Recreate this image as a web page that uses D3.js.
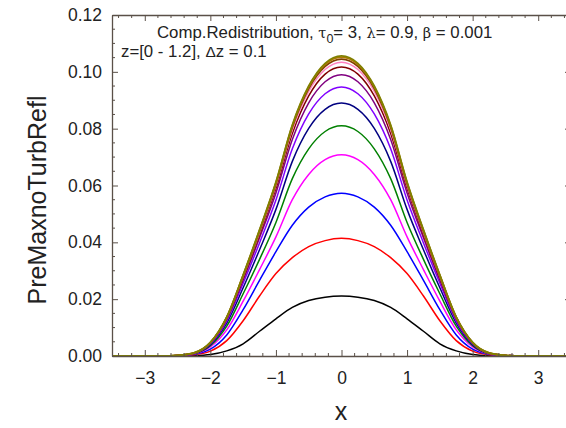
<!DOCTYPE html>
<html>
<head>
<meta charset="utf-8">
<script src="https://cdn.jsdelivr.net/npm/d3@7"></script>
<style>
  html, body { margin: 0; padding: 0; background: #fff; }
  svg { display: block; font-family: "Liberation Sans", Arial, sans-serif; }
</style>
</head>
<body>
<svg id="chart" width="566" height="428"></svg>
<script>
// ---- data ----
const xValues = [-3.5,-3.25,-3,-2.75,-2.5,-2.25,-2,-1.75,-1.5,-1.25,-1,-0.75,-0.5,-0.25,0,0.25,0.5,0.75,1,1.25,1.5,1.75,2,2.25,2.5,2.75,3,3.25,3.5];
const zLabels = ["0","0.1","0.2","0.3","0.4","0.5","0.6","0.7","0.8","0.9","1.0","1.1","1.2"];
const z00 = [0,0,0,0,0,0.0001,0.0005,0.0018,0.0043,0.0087,0.0131,0.0171,0.0195,0.0207,0.0211,0.0207,0.0195,0.0171,0.0131,0.0087,0.0043,0.0018,0.0005,0.0001,0,0,0,0,0];
const z01 = [0,0,0,0,0.0001,0.0004,0.0017,0.0054,0.0124,0.0211,0.0290,0.0346,0.0385,0.0406,0.0414,0.0406,0.0385,0.0346,0.0290,0.0211,0.0124,0.0054,0.0017,0.0004,0.0001,0,0,0,0];
const z02 = [0,0,0,0,0.0001,0.0006,0.0024,0.0074,0.0163,0.0266,0.0367,0.0460,0.0524,0.0560,0.0573,0.0560,0.0524,0.0460,0.0367,0.0266,0.0163,0.0074,0.0024,0.0006,0.0001,0,0,0,0];
const z03 = [0,0,0,0,0.0001,0.0007,0.0032,0.0092,0.0193,0.0304,0.0419,0.0550,0.0639,0.0691,0.0708,0.0691,0.0639,0.0550,0.0419,0.0304,0.0193,0.0092,0.0032,0.0007,0.0001,0,0,0,0];
const z04 = [0,0,0,0,0.0002,0.0008,0.0036,0.0105,0.0219,0.0340,0.0470,0.0624,0.0729,0.0790,0.0810,0.0790,0.0729,0.0624,0.0470,0.0340,0.0219,0.0105,0.0036,0.0008,0.0002,0,0,0,0];
const z05 = [0,0,0,0,0.0002,0.0009,0.0040,0.0116,0.0240,0.0374,0.0516,0.0685,0.0801,0.0868,0.0890,0.0868,0.0801,0.0685,0.0516,0.0374,0.0240,0.0116,0.0040,0.0009,0.0002,0,0,0,0];
const z06 = [0,0,0,0,0.0002,0.0009,0.0043,0.0123,0.0256,0.0398,0.0549,0.0729,0.0852,0.0923,0.0947,0.0923,0.0852,0.0729,0.0549,0.0398,0.0256,0.0123,0.0043,0.0009,0.0002,0,0,0,0];
const z07 = [0,0,0,0,0.0002,0.0010,0.0045,0.0129,0.0267,0.0416,0.0574,0.0762,0.0891,0.0965,0.0990,0.0965,0.0891,0.0762,0.0574,0.0416,0.0267,0.0129,0.0045,0.0010,0.0002,0,0,0,0];
const z08 = [0,0,0,0,0.0002,0.0010,0.0046,0.0132,0.0275,0.0427,0.0590,0.0783,0.0915,0.0992,0.1017,0.0992,0.0915,0.0783,0.0590,0.0427,0.0275,0.0132,0.0046,0.0010,0.0002,0,0,0,0];
const z09 = [0,0,0,0,0.0002,0.0010,0.0047,0.0134,0.0279,0.0434,0.0600,0.0796,0.0931,0.1008,0.1034,0.1008,0.0931,0.0796,0.0600,0.0434,0.0279,0.0134,0.0047,0.0010,0.0002,0,0,0,0];
const z10 = [0,0,0,0,0.0002,0.0010,0.0047,0.0136,0.0282,0.0439,0.0606,0.0805,0.0941,0.1019,0.1045,0.1019,0.0941,0.0805,0.0606,0.0439,0.0282,0.0136,0.0047,0.0010,0.0002,0,0,0,0];
const z11 = [0,0,0,0,0.0002,0.0011,0.0047,0.0137,0.0284,0.0442,0.0610,0.0810,0.0947,0.1026,0.1052,0.1026,0.0947,0.0810,0.0610,0.0442,0.0284,0.0137,0.0047,0.0011,0.0002,0,0,0,0];
const z12 = [0,0,0,0,0.0002,0.0011,0.0048,0.0137,0.0285,0.0444,0.0612,0.0813,0.0950,0.1030,0.1056,0.1030,0.0950,0.0813,0.0612,0.0444,0.0285,0.0137,0.0048,0.0011,0.0002,0,0,0,0];
const seriesValues = [z00,z01,z02,z03,z04,z05,z06,z07,z08,z09,z10,z11,z12];
const seriesColors = ["#000000","#FF0000","#0000FF","#FF00FF","#008000","#000080","#8000FF","#800080","#800000","#FF80C0","#804000","#B07800","#808000"];
const xTickValues = [-3,-2,-1,0,1,2,3];
const yTickValues = [0.00,0.02,0.04,0.06,0.08,0.10,0.12];

// ---- layout ----
const svg = d3.select("#chart");
const plotLeft = 112, plotRight = 571, plotTop = 15, plotBottom = 356;
const x = d3.scaleLinear().domain([-3.5, 3.5]).range([plotLeft, plotRight]);
const y = d3.scaleLinear().domain([0, 0.12]).range([plotBottom, plotTop]);
const axisColor = "#5a5048";

// curves
const line = d3.line().x((d, i) => x(xValues[i])).y(d => y(d)).curve(d3.curveMonotoneX);
svg.append("g").selectAll("path").data(seriesValues).join("path")
  .attr("d", d => line(d))
  .attr("fill", "none")
  .attr("stroke", (d, i) => seriesColors[i])
  .attr("stroke-width", (d, i) => i >= 10 ? 1.8 : 1.5);

// axes (ticks inward)
function styleAxis(g) {
  g.selectAll("path, line").attr("stroke", axisColor);
  g.select(".domain").attr("stroke-width", 1.3);
  g.selectAll("text").attr("fill", "#222").attr("font-size", "17.5px")
    .attr("font-family", "Liberation Sans, Arial, sans-serif");
}
const xMinor = d3.range(-3.4, 3.5001, 0.2).map(v => +v.toFixed(2)).filter(v => Math.abs(Math.round(v) - v) > 1e-6);
const yMinor = d3.range(0.005, 0.12, 0.005).map(v => +v.toFixed(3)).filter(v => Math.abs(Math.round(v * 50) - v * 50) > 1e-6);

// bottom
const gB = svg.append("g").attr("transform", `translate(0,${plotBottom})`);
gB.call(d3.axisBottom(x).tickValues(xTickValues).tickSize(-6).tickPadding(16).tickFormat(d3.format("d")).tickSizeOuter(0));
styleAxis(gB);
gB.append("g").selectAll("line").data(xMinor).join("line")
  .attr("x1", d => x(d)).attr("x2", d => x(d)).attr("y1", 0).attr("y2", -3).attr("stroke", axisColor);

// top
const gT = svg.append("g").attr("transform", `translate(0,${plotTop})`);
gT.call(d3.axisTop(x).tickValues(xTickValues).tickSize(-6).tickFormat("").tickSizeOuter(0));
styleAxis(gT);
gT.append("g").selectAll("line").data(xMinor).join("line")
  .attr("x1", d => x(d)).attr("x2", d => x(d)).attr("y1", 0).attr("y2", 3).attr("stroke", axisColor);

// left
const gL = svg.append("g").attr("transform", `translate(${plotLeft},0)`);
gL.call(d3.axisLeft(y).tickValues(yTickValues).tickSize(-6).tickPadding(10).tickFormat(d3.format(".2f")).tickSizeOuter(0));
styleAxis(gL);
gL.append("g").selectAll("line").data(yMinor).join("line")
  .attr("y1", d => y(d)).attr("y2", d => y(d)).attr("x1", 0).attr("x2", 3).attr("stroke", axisColor);

// right
const gR = svg.append("g").attr("transform", `translate(${plotRight},0)`);
gR.call(d3.axisRight(y).tickValues(yTickValues).tickSize(-6).tickFormat("").tickSizeOuter(0));
styleAxis(gR);

// axis titles
svg.append("text").attr("x", 341).attr("y", 420).attr("text-anchor", "middle")
  .attr("font-size", "25px").attr("fill", "#222").text("x");
svg.append("text").attr("transform", "translate(46,200) rotate(-90)").attr("text-anchor", "middle")
  .attr("font-size", "25px").attr("fill", "#222").text("PreMaxnoTurbRefl");

// annotations
const t1 = svg.append("text").attr("x", 157).attr("y", 38).attr("font-size", "16.8px").attr("fill", "#222");
t1.append("tspan").text("Comp.Redistribution, ");
t1.append("tspan").attr("font-family", "DejaVu Serif, serif").attr("font-size", "14.5px").text("τ");
t1.append("tspan").attr("font-size", "12.5px").attr("dy", 5).text("0");
t1.append("tspan").attr("dy", -5).text("= 3, ");
t1.append("tspan").attr("font-family", "DejaVu Serif, serif").attr("font-size", "14.5px").text("λ");
t1.append("tspan").text("= 0.9, ");
t1.append("tspan").attr("font-family", "DejaVu Serif, serif").attr("font-size", "14.5px").text("β");
t1.append("tspan").text(" = 0.001");

const t2 = svg.append("text").attr("x", 121).attr("y", 57).attr("font-size", "16.8px").attr("fill", "#222");
t2.append("tspan").text("z=[0 - 1.2], ");
t2.append("tspan").attr("font-size", "15.5px").text("Δ");
t2.append("tspan").text("z = 0.1");
</script>
</body>
</html>
